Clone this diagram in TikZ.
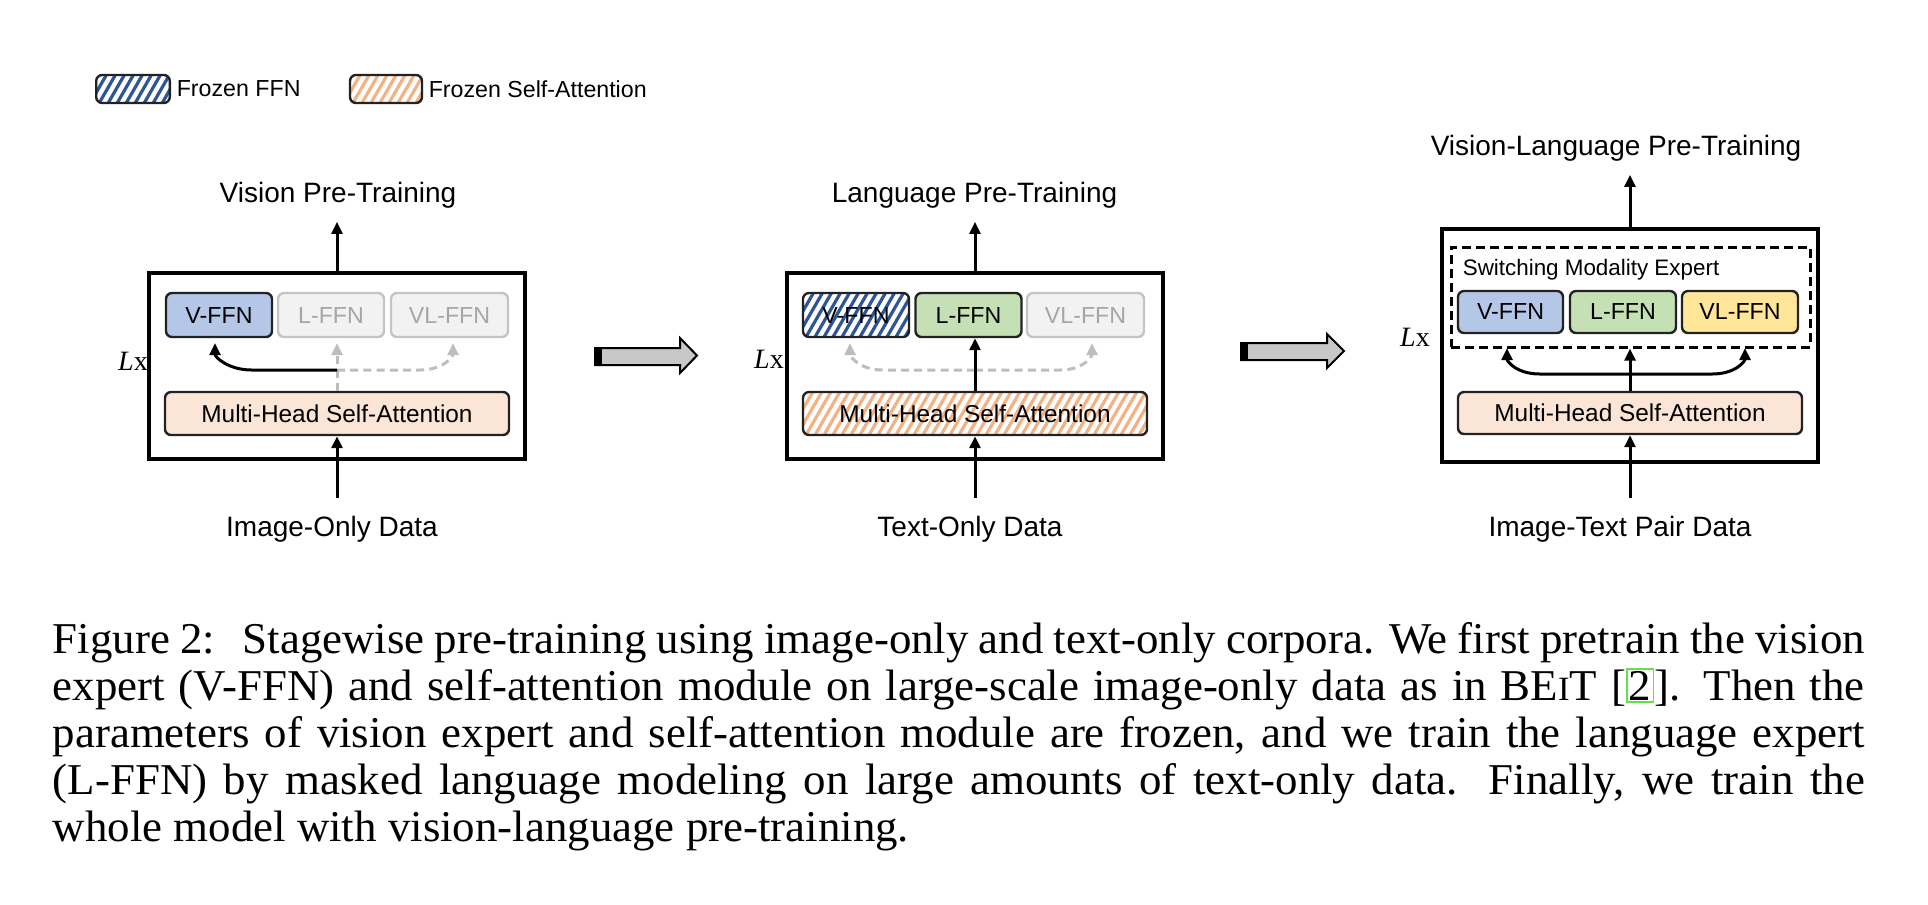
\documentclass[tikz,border=0pt]{standalone}
\usepackage{fontspec}
\setmainfont{Liberation Sans}
\newfontfamily\capfont[FakeStretch=1.02]{Liberation Serif}
\newfontfamily\lxfont{Liberation Serif}
\usetikzlibrary{arrows.meta}
\definecolor{vblue}{HTML}{B4C7E7}
\definecolor{lgreen}{HTML}{C5E0B4}
\definecolor{vlyellow}{HTML}{FFE699}
\definecolor{mpeach}{HTML}{FBE5D6}
\definecolor{hblue}{HTML}{2F5597}
\definecolor{horange}{HTML}{F4B183}
\definecolor{offfill}{HTML}{F2F2F2}
\definecolor{offdraw}{HTML}{C4C4C4}
\definecolor{offtext}{HTML}{A6A6A6}
\definecolor{bdr}{HTML}{222222}
\definecolor{barrow}{HTML}{C8C8C8}
\definecolor{garrow}{HTML}{BDBDBD}
\definecolor{linkgreen}{HTML}{66E04A}
\newcommand\setfs[1]{\fontsize{#1}{#1}\selectfont}
\begin{document}
\begin{tikzpicture}[x=0.25pt,y=-0.25pt,
  outerbox/.style={draw=black,line width=1pt,inner sep=0pt,minimum width=94pt},
  mod/.style={draw=bdr,line width=0.6pt,rounded corners=1.5pt,inner sep=0pt,
    minimum height=11pt,minimum width=26.5pt,font=\setfs{5.8}},
  mhsa/.style={mod,fill=mpeach,minimum width=86pt,minimum height=10.75pt,font=\setfs{6.1}},
  off/.style={mod,draw=offdraw,fill=offfill,text=offtext},
  hatchb/.style={path picture={\foreach \s in {-60,-51,...,400}{\draw[hblue,line width=0.8pt] (path picture bounding box.south west) ++(\s,0) -- ++(30,-52);}}},
  hatcho/.style={path picture={\foreach \s in {-60,-51,...,400}{\draw[horange,line width=0.8pt] (path picture bounding box.south west) ++(\s,0) -- ++(30,-52);}}},
  title/.style={inner sep=0pt,outer sep=3.5pt,font=\setfs{7},anchor=base},
  datal/.style={inner sep=0pt,outer sep=4.5pt,font=\setfs{7},anchor=base},
  lx/.style={inner sep=0pt,font=\lxfont\setfs{7}},
  arr/.style={line width=0.75pt,-{Triangle[length=3pt,width=2.7pt]}},
  garr/.style={arr,draw=garrow,dash pattern=on 2pt off 1.3pt},
  legtext/.style={inner sep=0pt,anchor=west,font=\setfs{5.8}},
  capline/.style={inner sep=0pt,anchor=base west,font=\capfont\setfs{11}},
  blockarrow/.style={fill=barrow,draw=black,line width=0.5pt}
]
\useasboundingbox (0,0) rectangle (1928,904);

% ---------- legend ----------
\node[mod,fill=white,hatchb,minimum width=18.4pt,minimum height=7pt] (lg1) at (133,89) {};
\node[legtext] (lg1t) at (176,89) {Frozen FFN};
\node[mod,fill=white,hatcho,minimum width=18pt,minimum height=7pt] (lg2) at (386,89) {};
\node[legtext] (lg2t) at (428,89) {Frozen Self-Attention};

% ---------- panel 1 ----------
\node[outerbox,minimum height=46.5pt] (box1) at (337,366) {};
\node[title] (title1) at (338,202) {Vision Pre-Training};
\node[mod,fill=vblue] (v1) at (219,315) {V-FFN};
\node[off] (l1) at (331,315) {L-FFN};
\node[off,minimum width=29.25pt] (vl1) at (449.5,315) {VL-FFN};
\node[mhsa] (m1) at (337,413.5) {Multi-Head Self-Attention};
\node[datal] (d1) at (332,536) {Image-Only Data};
\node[lx] (lx1) at (133,361) {\textit{L}x};
\coordinate (j1) at (337,370);
\coordinate (v1t) at (215,343);
\coordinate (l1t) at (337,343);
\coordinate (vl1t) at (453,343);
\draw[arr] (box1.north) -- (box1.north |- title1.south);
\draw[arr] (m1.south |- d1.north) -- (m1.south);
\draw[garr] (m1.north) -- (l1t);
\draw[garr] (j1) -- (420,370) .. controls (443,370) and (453,357) .. (vl1t);
\draw[arr] (j1) -- (252,370) .. controls (228,370) and (215,357) .. (v1t);

% ---------- block arrow 1 ----------
\filldraw[blockarrow] (595,348) -- (680,348) -- (680,338) -- (697,355.5) -- (680,373) -- (680,365) -- (595,365) -- cycle;
\fill[black] (595,348) rectangle (602,365);

% ---------- panel 2 ----------
\node[outerbox,minimum height=46.5pt] (box2) at (975,366) {};
\node[title] (title2) at (974.5,202) {Language Pre-Training};
\node[mod,fill=white,hatchb] (v2) at (856,315) {V-FFN};
\node[mod,fill=lgreen] (l2) at (968.5,315) {L-FFN};
\node[off,minimum width=29.25pt] (vl2) at (1085.5,315) {VL-FFN};
\node[mhsa,fill=white,hatcho] (m2) at (975,413.5) {Multi-Head Self-Attention};
\node[datal] (d2) at (970,536) {Text-Only Data};
\node[lx] (lx2) at (769,359) {\textit{L}x};
\coordinate (j2) at (975,370);
\coordinate (v2t) at (850,343);
\coordinate (vl2t) at (1092,343);
\draw[arr] (box2.north) -- (box2.north |- title2.south);
\draw[arr] (m2.south |- d2.north) -- (m2.south);
\draw[garr] (j2) -- (883,370) .. controls (860,370) and (850,357) .. (v2t);
\draw[garr] (j2) -- (1060,370) .. controls (1083,370) and (1092,357) .. (vl2t);
\draw[arr] (m2.north) -- (m2.north |- l2.south);

% ---------- block arrow 2 ----------
\filldraw[blockarrow] (1241,343) -- (1327,343) -- (1327,334) -- (1344,351) -- (1327,368) -- (1327,360) -- (1241,360) -- cycle;
\fill[black] (1241,343) rectangle (1248,360);

% ---------- panel 3 ----------
\node[outerbox,minimum height=58.25pt] (box3) at (1630,345.5) {};
\node[title] (title3) at (1616,155) {Vision-Language Pre-Training};
\node[draw=black,line width=0.75pt,dash pattern=on 2.2pt off 1.3pt,inner sep=0pt,
      minimum width=89.75pt,minimum height=25pt] (sme) at (1630.5,297) {};
\node[inner sep=0pt,anchor=west,font=\setfs{5.6}] (smet) at (1462,270) {Switching Modality Expert};
\node[mod,fill=vblue,minimum width=26.25pt,minimum height=10.5pt] (v3) at (1510.5,312) {V-FFN};
\node[mod,fill=lgreen,minimum width=26.5pt,minimum height=10.5pt] (l3) at (1623,312) {L-FFN};
\node[mod,fill=vlyellow,minimum width=29pt,minimum height=10.5pt] (vl3) at (1740,312) {VL-FFN};
\node[mhsa,minimum height=10.5pt] (m3) at (1630,413) {Multi-Head Self-Attention};
\node[datal] (d3) at (1620,536) {Image-Text Pair Data};
\node[lx] (lx3) at (1415,337) {\textit{L}x};
\coordinate (j3) at (1630,374);
\coordinate (v3t) at (1507,348);
\coordinate (vl3t) at (1745,348);
\draw[arr] (box3.north) -- (box3.north |- title3.south);
\draw[arr] (m3.south |- d3.north) -- (m3.south);
\draw[arr] (m3.north) -- (sme.south -| m3.north);
\draw[arr] (j3) -- (1540,374) .. controls (1516,374) and (1507,361) .. (v3t);
\draw[arr] (j3) -- (1712,374) .. controls (1736,374) and (1745,361) .. (vl3t);

% ---------- caption ----------
\node[capline] (c1) at (52,653) {\makebox[453pt][s]{Figure 2:\hspace{0.3em} Stagewise pre-training using image-only and text-only corpora. We first pretrain the vision}};
\node[capline] (c2) at (52,700) {\makebox[453pt][s]{expert (V-FFN) and self-attention module on large-scale image-only data as in BE{\setfs{8.5}I}T [{\color{linkgreen}\fboxrule=0.4pt\fboxsep=0.3pt\fbox{\color{black}2}}]. Then the}};
\node[capline] (c3) at (52,747) {\makebox[453pt][s]{parameters of vision expert and self-attention module are frozen, and we train the language expert}};
\node[capline] (c4) at (52,794) {\makebox[453pt][s]{(L-FFN) by masked language modeling on large amounts of text-only data. Finally, we train the}};
\node[capline] (c5) at (52,841) {whole model with vision-language pre-training.};
\end{tikzpicture}
\end{document}
